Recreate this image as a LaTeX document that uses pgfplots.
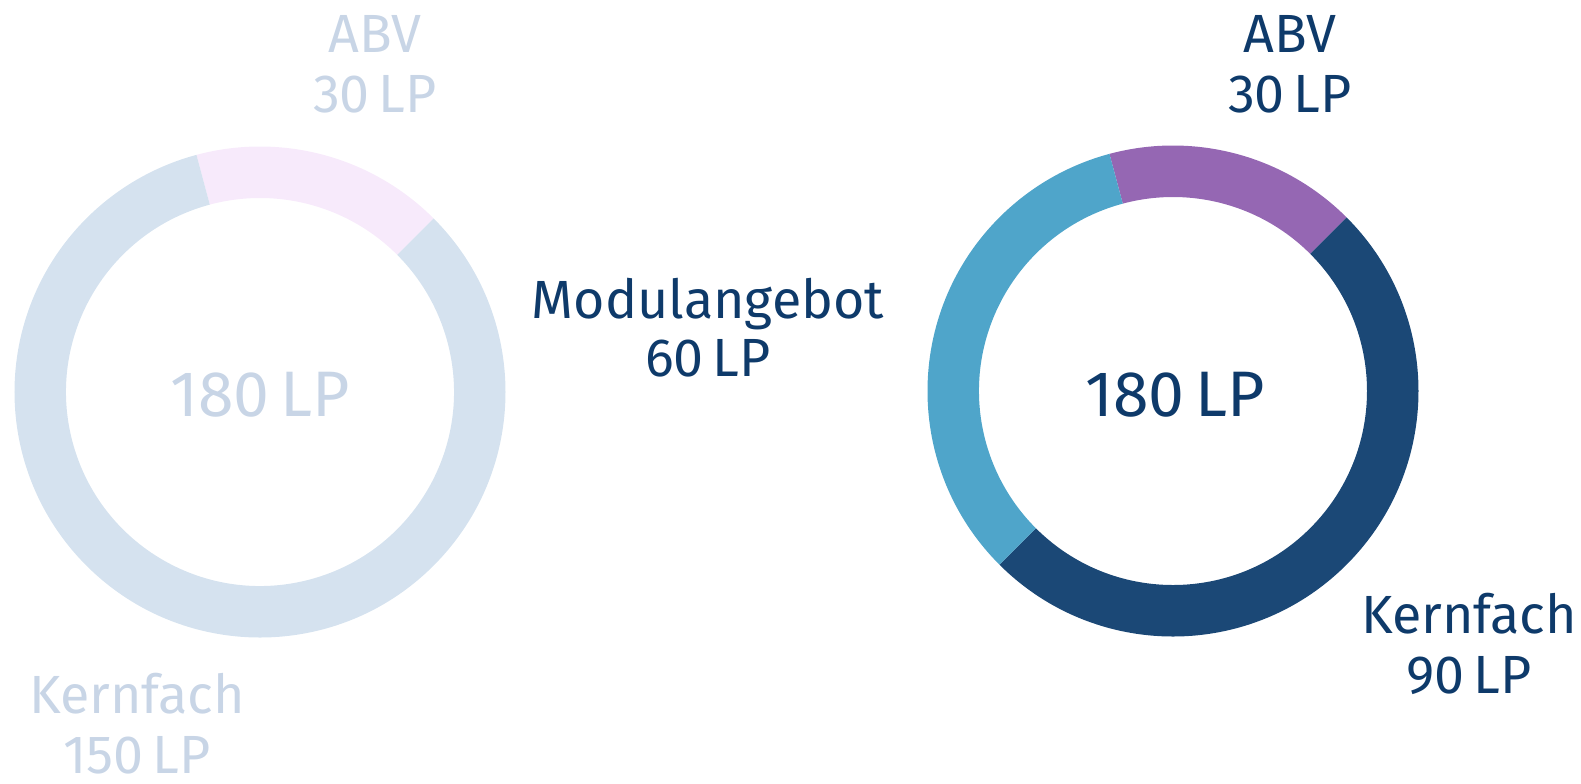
\documentclass[border=0pt]{standalone}
\usepackage{fontspec}
\setmainfont{Fira Sans}
\usepackage{pgfplots}
\usepackage{pgfplotstable}
\pgfplotsset{compat=1.18}
\definecolor{lgray}{HTML}{D5E2EF}
\definecolor{lpink}{HTML}{F7EAFB}
\definecolor{purp}{HTML}{9567B3}
\definecolor{navy}{HTML}{1B4876}
\definecolor{lblue}{HTML}{4FA5CA}
\definecolor{txt}{HTML}{0E3A6A}
\definecolor{ltxt}{HTML}{C8D5E6}
\pgfplotstableread{
seg value
ABV 30
Kernfach 150
}\leftdata
\pgfplotstableread{
seg value
ABV 30
Kernfach 90
Modulangebot 60
}\rightdata
% annular sector: center x, center y (axis units), start angle, end angle, colour
\newcommand\seg[5]{%
  \fill[#5] (axis cs:#1,#2) ++(#3:24.55mm) arc[start angle=#3, end angle=#4, radius=24.55mm]
    -- ++(#4+180:5.15mm) arc[start angle=#4, end angle=#3, radius=19.4mm] -- cycle;}
\newcommand\lbl[4]{\node[anchor=base, text=#3, font=\fontsize{15.3pt}{17pt}\selectfont, inner sep=0pt] at (axis cs:#1,#2) {#4};}
\begin{document}
\begin{tikzpicture}
\pgfplotstablegetelem{0}{value}\of\leftdata \let\lA\pgfplotsretval
\pgfplotstablegetelem{1}{value}\of\leftdata \let\lK\pgfplotsretval
\pgfplotstablegetelem{0}{value}\of\rightdata \let\rA\pgfplotsretval
\pgfplotstablegetelem{1}{value}\of\rightdata \let\rK\pgfplotsretval
\pgfplotstablegetelem{2}{value}\of\rightdata \let\rM\pgfplotsretval
\pgfmathsetmacro\la{105}
\pgfmathsetmacro\lb{\la-\lA*2}
\pgfmathsetmacro\lc{\lb-\lK*2}
\pgfmathsetmacro\ra{105}
\pgfmathsetmacro\rb{\ra-\rA*2}
\pgfmathsetmacro\rc{\rb-\rK*2}
\pgfmathsetmacro\rd{\rc-\rM*2}
\begin{axis}[width=158.1mm, height=78.3mm, scale only axis,
  xmin=0, xmax=1581, ymin=0, ymax=783, hide axis, clip=false]
\addplot[draw=none, forget plot] coordinates {(0,0) (1581,783)};
% left donut
\seg{260}{391}{\la}{\lb}{lpink}
\seg{260}{391}{\lb}{\lc}{lgray}
% right donut
\seg{1173}{392}{\ra}{\rb}{purp}
\seg{1173}{392}{\rb}{\rc}{navy}
\seg{1173}{392}{\rc}{\rd}{lblue}
% centre texts
\node[anchor=base, text=ltxt, font=\fontsize{18.3pt}{20pt}\selectfont, inner sep=0pt] at (axis cs:260,367) {180\,LP};
\node[anchor=base, text=txt, font=\fontsize{18.3pt}{20pt}\selectfont, inner sep=0pt] at (axis cs:1175,367) {180\,LP};
% left labels
\lbl{375}{731}{ltxt}{ABV}
\lbl{375}{671}{ltxt}{30\,LP}
\lbl{137}{70}{ltxt}{Kernfach}
\lbl{137}{10}{ltxt}{150\,LP}
% middle
\lbl{708}{465}{txt}{Modulangebot}
\lbl{708}{407}{txt}{60\,LP}
% right labels
\lbl{1290}{731}{txt}{ABV}
\lbl{1290}{671}{txt}{30\,LP}
\lbl{1469}{150}{txt}{Kernfach}
\lbl{1469}{90}{txt}{90\,LP}
\end{axis}
\pgfresetboundingbox
\path (current axis.south west) rectangle (current axis.north east);
\end{tikzpicture}
\end{document}
